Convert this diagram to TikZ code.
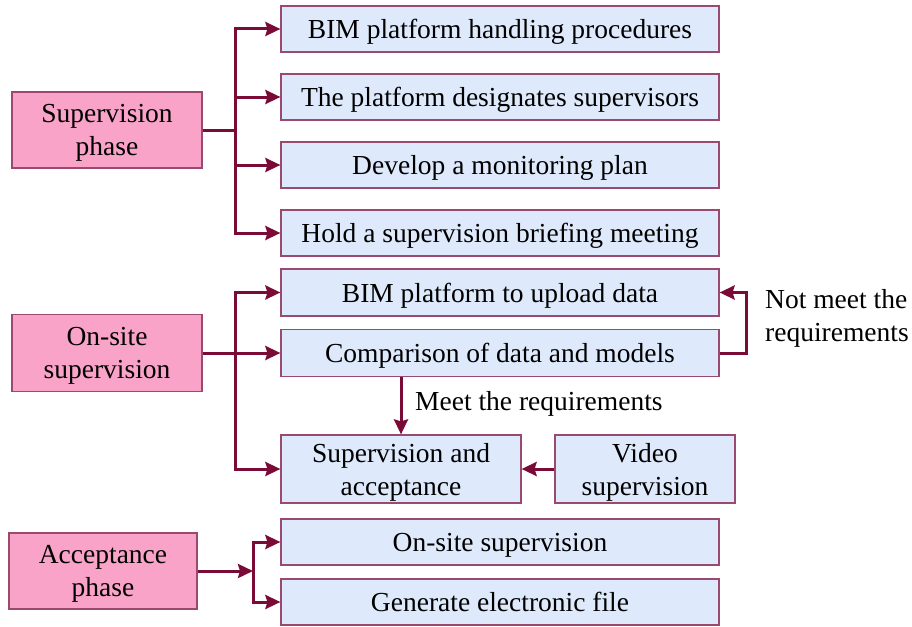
\documentclass[tikz,border=0pt]{standalone}
\usepackage{fontspec}
\setmainfont{Liberation Serif}
\usetikzlibrary{arrows.meta}
\definecolor{lnc}{HTML}{7A0A36}
\definecolor{pinkf}{HTML}{F9A3C8}
\definecolor{bluef}{HTML}{DEEAFB}
\definecolor{bordc}{HTML}{9A4A6E}
\begin{document}
\begin{tikzpicture}[x=1pt,y=-1pt,
  every node/.style={font=\fontsize{27.5}{33}\selectfont, inner sep=0pt, align=center},
  pbox/.style={draw=bordc, fill=pinkf, line width=1.2pt, text depth=0pt},
  bbox/.style={draw=bordc, fill=bluef, line width=1.2pt, text depth=0pt},
  onel/.style={text height=19pt, text depth=0pt},
  arr/.style={draw=lnc, line width=3pt, -{Stealth[length=15pt,width=14pt,inset=2pt]}},
  ln/.style={draw=lnc, line width=3pt}]
\useasboundingbox (0,0) rectangle (912,626);
% pink boxes
\node[pbox, minimum width=190, minimum height=76] (p1) at (107,130) {Supervision\\phase};
\node[pbox, minimum width=190, minimum height=77] (p2) at (107,353) {On-site\\supervision};
\node[pbox, minimum width=188, minimum height=76] (p3) at (103,571) {Acceptance\\phase};
% blue boxes
\node[bbox, onel, minimum width=438, minimum height=46] (b1) at (500,29) {BIM platform handling procedures};
\node[bbox, onel, minimum width=438, minimum height=46] (b2) at (500,97) {The platform designates supervisors};
\node[bbox, onel, minimum width=438, minimum height=46] (b3) at (500,165) {Develop a monitoring plan};
\node[bbox, onel, minimum width=438, minimum height=46] (b4) at (500,233) {Hold a supervision briefing meeting};
\node[bbox, onel, minimum width=438, minimum height=47] (b5) at (500,292.5) {BIM platform to upload data};
\node[bbox, onel, minimum width=438, minimum height=47] (b6) at (500,353) {Comparison of data and models};
\node[bbox, minimum width=240, minimum height=68] (b7) at (401,469) {Supervision and\\acceptance};
\node[bbox, minimum width=180, minimum height=68] (b8) at (645,469) {Video\\supervision};
\node[bbox, onel, minimum width=438, minimum height=46] (b9) at (500,542) {On-site supervision};
\node[bbox, onel, minimum width=438, minimum height=46] (b10) at (500,602) {Generate electronic file};
% labels
\node[anchor=west, align=left] (l1) at (765,318) {Not meet the\\requirements};
\node[anchor=west] (l2) at (415,404) {Meet the requirements};
% junctions
\coordinate (j1) at (235,130);
\coordinate (j2) at (235,353);
\coordinate (j3) at (253,571);
\coordinate (c1) at (746,353);
% supervision phase
\draw[ln] (p1.east) -- (j1);
\draw[arr] (j1) |- (b1.west);
\draw[arr] (j1) |- (b2.west);
\draw[arr] (j1) |- (b3.west);
\draw[arr] (j1) |- (b4.west);
% on-site
\draw[arr] (p2.east) -- (b6.west);
\draw[arr] (j2) |- (b5.west);
\draw[arr] (j2) |- (b7.west);
\draw[arr] (b6.east) -- (c1) |- (b5.east);
\draw[arr] (b7.north |- b6.south) -- (b7.north);
\draw[arr] (b8.west) -- (b7.east);
% acceptance
\draw[arr] (p3.east) -- (j3);
\draw[arr] (j3) |- (b9.west);
\draw[arr] (j3) |- (b10.west);
\end{tikzpicture}
\end{document}
